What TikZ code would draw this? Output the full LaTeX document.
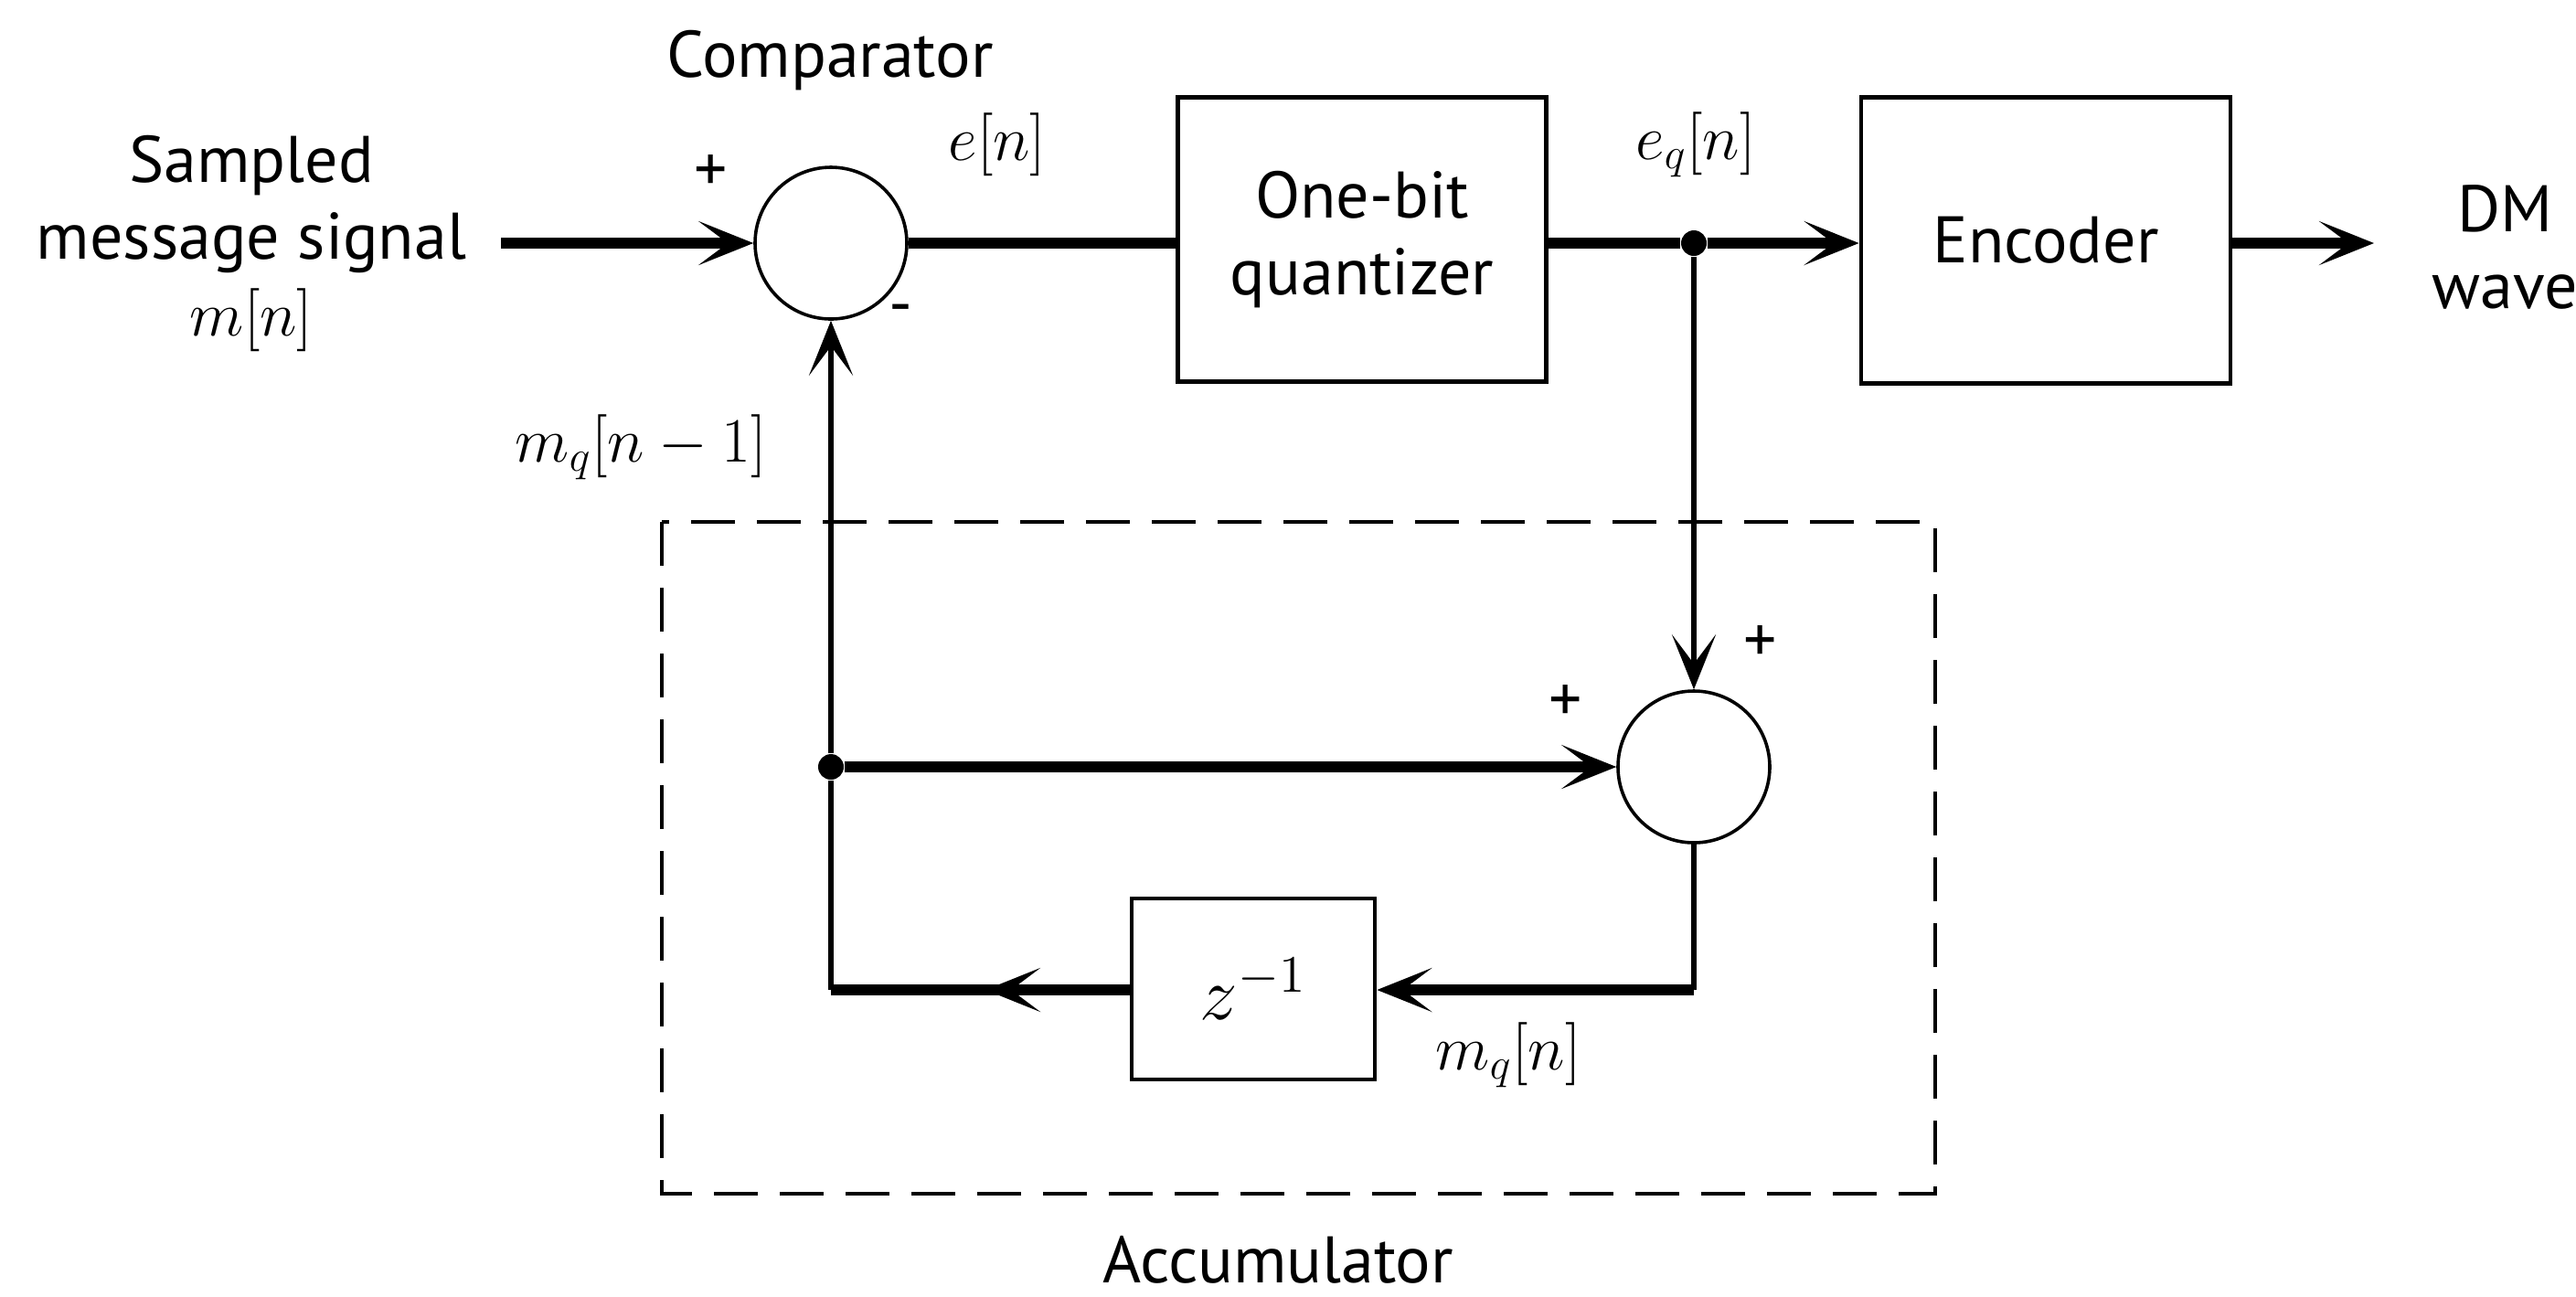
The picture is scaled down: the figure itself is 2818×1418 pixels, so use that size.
\documentclass[tikz,border=0pt]{standalone}
\usepackage{fontspec}
\setmainfont{PT Sans}
\usetikzlibrary{arrows.meta}
\begin{document}
\begin{tikzpicture}[x=0.25pt,y=-0.25pt,
  sig/.style={line width=2.8pt},
  vsig/.style={line width=1.6pt},
  arr/.style={-{Stealth[length=15pt,width=12pt,inset=8pt]}},
  sumc/.style={circle,draw,line width=0.9pt,minimum size=41.5pt,inner sep=0pt},
  blk/.style={draw,line width=1.2pt,align=center,inner sep=0pt,font=\fontsize{18}{21}\selectfont},
  lbl/.style={font=\fontsize{18}{21}\selectfont,align=center,inner sep=0pt},
  mlbl/.style={font=\fontsize{18}{21}\selectfont,inner sep=0pt},
  jdot/.style={circle,fill,minimum size=7pt,inner sep=0pt}
]
\useasboundingbox (0,0) rectangle (2818,1418);
% dashed accumulator frame
\draw[dash pattern=on 12pt off 6pt, line width=0.9pt] (724,571) rectangle (2117,1306);
% blocks
\node[sumc] (comp) at (909,266) {};
\node[blk,minimum width=100.75pt,minimum height=77.75pt] (quant) at (1490,262) {One-bit\\quantizer};
\node[blk,minimum width=101pt,minimum height=78.25pt] (enc) at (2238,263) {Encoder};
\node[sumc] (add) at (1853,839) {};
\node[blk,minimum width=66.5pt,minimum height=49.5pt,font=\fontsize{20}{24}\selectfont] (delay) at (1371,1082) {$z^{-1}$};
% coordinates
\coordinate (in) at (548,266);
\coordinate (out) at (2597,266);
\node[jdot] (jq) at (1853,266) {};
\node[jdot] (jm) at (909,839) {};
\coordinate (br) at (1853,1083);
\coordinate (bl) at (909,1083);
\coordinate (bm) at (1078,1083);
% connectors
\draw[sig,arr] (in) -- (comp.west);
\draw[sig] (comp.east) -- (quant.west |- comp.east);
\draw[sig] (quant.east |- jq) -- (jq);
\draw[sig,arr] (jq) -- (enc.west |- jq);
\draw[sig,arr] (enc.east |- out) -- (out);
\draw[vsig,arr] (jq) -- (add.north);
\draw[sig,arr] (jm) -- (add.west);
\draw[vsig] (add.south) -- (br);
\draw[sig,arr] (br) -- (delay.east |- br);
\draw[sig] (delay.west |- bl) -- (bl);
\draw[sig,arr] (delay.west |- bl) -- (bm);
\draw[vsig] (bl) -- (jm);
\draw[vsig,arr] (jm) -- (comp.south);
% labels
\node[lbl] (tcomp) at (908,66) {Comparator};
\node[lbl] (tin) at (275,266) {Sampled\\message signal\\$m[n]$};
\node[lbl] (pin) at (778,190) {+};
\node[lbl] (min) at (985,345) {-};
\node[mlbl] (ten) at (1091,158) {$e[n]$};
\node[mlbl] (teq) at (1855,158) {$e_q[n]$};
\node[lbl] (tout) at (2740,270) {DM\\wave};
\node[lbl] (p1) at (1926,704) {+};
\node[lbl] (p2) at (1713,769) {+};
\node[mlbl] (tmq1) at (701,489) {$m_q[n-1]$};
\node[mlbl] (tmq) at (1650,1154) {$m_q[n]$};
\node[lbl] (tacc) at (1398,1378) {Accumulator};
\end{tikzpicture}
\end{document}
